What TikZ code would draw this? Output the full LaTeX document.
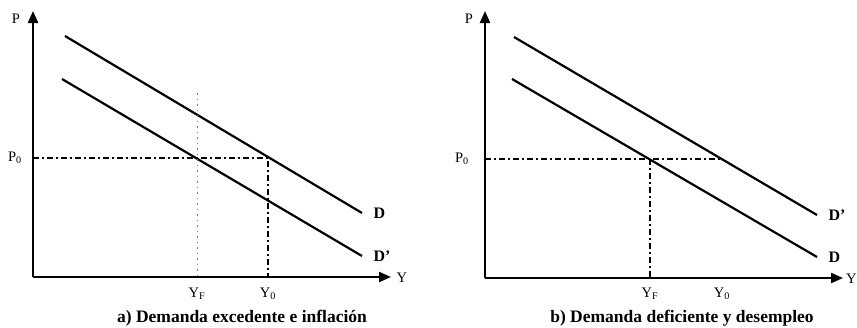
\documentclass[tikz,border=0pt]{standalone}
\usepackage{fontspec}
\setmainfont{Liberation Serif}
\usetikzlibrary{arrows.meta}
\tikzset{
  axis/.style={line width=2.2pt, -{Triangle[length=12pt,width=10pt]}},
  demand/.style={line width=2.2pt},
  guide/.style={line width=1.6pt, dash pattern=on 6pt off 3pt on 2pt off 3pt},
  faint/.style={line width=0.8pt, gray, dash pattern=on 1.5pt off 4pt},
  lbl/.style={font=\fontsize{14.5}{16}\selectfont},
  curvelbl/.style={font=\bfseries\fontsize{16}{18}\selectfont, anchor=west},
  caption/.style={font=\bfseries\fontsize{17.5}{19}\selectfont}
}
\begin{document}
\begin{tikzpicture}[x=1pt, y=-1pt]
\useasboundingbox (0,0) rectangle (857,327);
% ---- a) excess demand
% Draw axes
\coordinate (aO) at (33,277);
\coordinate (aPtop) at (33,11);
\coordinate (aYend) at (391,277);
\draw[axis] (aO) -- (aPtop);
\draw[axis] (aO) -- (aYend);
\node[lbl] (aP) at (16,19) {P};
\node[lbl, anchor=west] (aY) at (393,278) {Y};
% Draw demand lines
\coordinate (aD1) at (65,36);
\coordinate (aD2) at (362,213);
\coordinate (aDp1) at (62,79);
\coordinate (aDp2) at (362,256);
\draw[demand] (aD1) -- (aD2);
\draw[demand] (aDp1) -- (aDp2);
\node[curvelbl] (aDlbl) at (aD2) [xshift=8pt] {D};
\node[curvelbl] (aDplbl) at (aDp2) [xshift=8pt] {D'};
% Price level and output
\coordinate (aPaxis) at (33,158);
\coordinate (aE) at (268,158);
\coordinate (aY0) at (268,277);
\coordinate (aFtop) at (197,93);
\coordinate (aYF) at (197,277);
\node[lbl] (aP0) at (15,158) {P\textsubscript{0}};
\draw[guide] (aPaxis) -- (aE) -- (aY0);
\draw[faint] (aFtop) -- (aYF);
\node[lbl] (aYFlbl) at (197,294) {Y\textsubscript{F}};
\node[lbl] (aY0lbl) at (268,294) {Y\textsubscript{0}};
\node[caption] (acap) at (242,318) {a) Demanda excedente e inflación};
% ---- b) deficient demand
% Draw axes
\coordinate (bO) at (485,278);
\coordinate (bPtop) at (485,11);
\coordinate (bYend) at (843,278);
\draw[axis] (bO) -- (bPtop);
\draw[axis] (bO) -- (bYend);
\node[lbl] (bP) at (469,19) {P};
\node[lbl, anchor=west, inner sep=1pt] (bY) at (845,279) {Y};
% Draw demand lines
\coordinate (bDp1) at (514,37);
\coordinate (bDp2) at (817,215);
\coordinate (bD1) at (512,79);
\coordinate (bD2) at (817,257);
\draw[demand] (bDp1) -- (bDp2);
\draw[demand] (bD1) -- (bD2);
\node[curvelbl] (bDplbl) at (bDp2) [xshift=8pt] {D'};
\node[curvelbl] (bDlbl) at (bD2) [xshift=8pt] {D};
% Price level and output
\coordinate (bPaxis) at (485,159);
\coordinate (bE) at (650,159);
\coordinate (bP0end) at (722,159);
\coordinate (bYF) at (650,278);
\node[lbl] (bP0) at (462,159) {P\textsubscript{0}};
\draw[guide] (bPaxis) -- (bP0end);
\draw[guide] (bE) -- (bYF);
\node[lbl] (bYFlbl) at (650,294) {Y\textsubscript{F}};
\node[lbl] (bY0lbl) at (722,294) {Y\textsubscript{0}};
\node[caption] (bcap) at (682,318) {b) Demanda deficiente y desempleo};
\end{tikzpicture}
\end{document}
